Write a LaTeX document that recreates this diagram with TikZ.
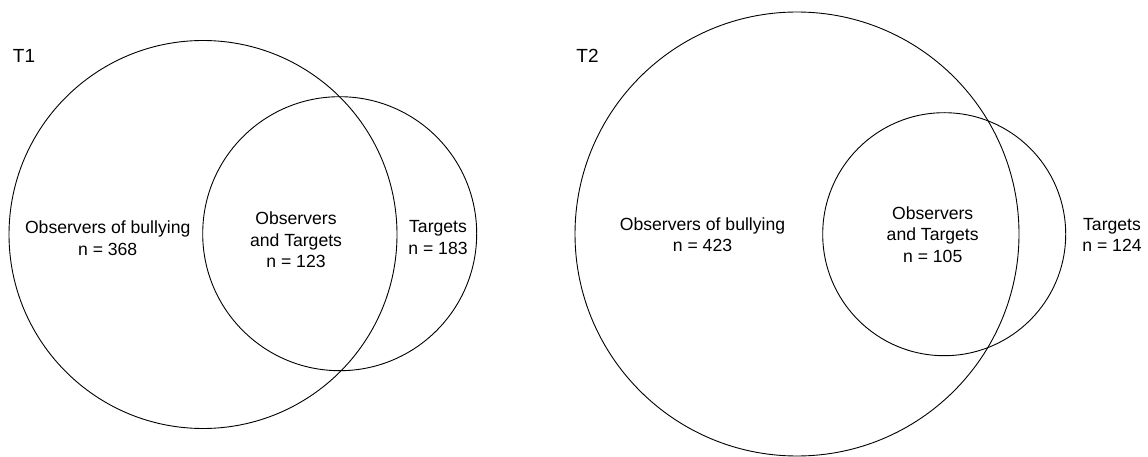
\documentclass[tikz,border=0pt]{standalone}
\usepackage{fontspec}
\setmainfont{Liberation Sans}
\begin{document}
\begin{tikzpicture}[x=1pt,y=-1pt,
  venn/.style={circle,draw=black,line width=0.9pt,inner sep=0pt},
  lbl/.style={align=center,inner sep=0pt,font=\fontsize{17.6}{21.5}\selectfont},
  ttl/.style={inner sep=0pt,font=\fontsize{19}{22}\selectfont}]
\useasboundingbox (0,0) rectangle (1148,457);
% T1
\node[venn,minimum size=388pt] (b1) at (203,234.5) {};
\node[venn,minimum size=274pt] (s1) at (339.7,233.7) {};
\node[ttl] (t1) at (24,55.5) {T1};
\node[lbl] (o1) at (107.7,238) {Observers of bullying\\n = 368};
\node[lbl] (ot1) at (296,240) {Observers\\and Targets\\n = 123};
\node[lbl] (tg1) at (438,237.5) {Targets\\n = 183};
% T2
\node[venn,minimum size=444pt] (b2) at (797,234) {};
\node[venn,minimum size=243pt] (s2) at (944.2,234.2) {};
\node[ttl] (t2) at (587.5,55.5) {T2};
\node[lbl] (o2) at (702.5,234.7) {Observers of bullying\\n = 423};
\node[lbl] (ot2) at (932.7,234.5) {Observers\\and Targets\\n = 105};
\node[lbl] (tg2) at (1112,235) {Targets\\n = 124};
\end{tikzpicture}
\end{document}
